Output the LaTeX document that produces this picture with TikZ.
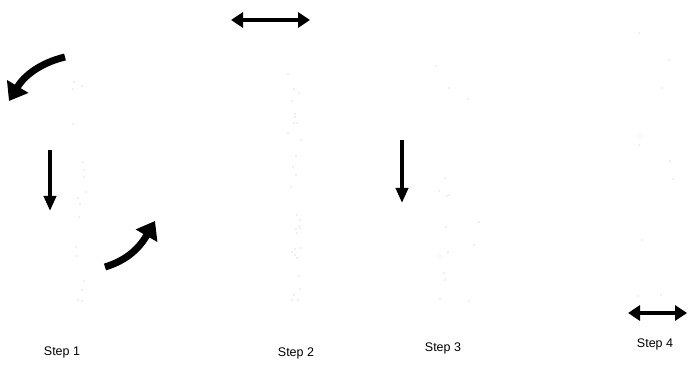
\documentclass[tikz,border=0pt]{standalone}
\usepackage{fontspec}
\setmainfont{Liberation Sans}
\usetikzlibrary{arrows.meta}
\begin{document}
\begin{tikzpicture}[x=1pt,y=-1pt,
  bigarrow/.style={line width=7pt,-{Triangle[length=17pt,width=24pt]}},
  straightarrow/.style={line width=4pt,-{Triangle[length=15pt,width=12pt]}},
  dblarrow/.style={line width=4pt,{Triangle[length=12pt,width=15pt]}-{Triangle[length=12pt,width=15pt]}},
  dotmark/.style={fill=gray!55,draw=none},
  steplabel/.style={font=\fontsize{12.5}{14}\selectfont,inner sep=0pt}]
\useasboundingbox (0,0) rectangle (688,379);
% Step 1
\coordinate (a1s) at (65,57);
\coordinate (a1e) at (9,101);
\draw[bigarrow] (a1s) .. controls (40,63) and (24,76) .. (a1e);
\coordinate (d1s) at (50,150);
\coordinate (d1e) at (50,211);
\draw[straightarrow] (d1s) -- (d1e);
\coordinate (a2s) at (105,267);
\coordinate (a2e) at (155,221);
\draw[bigarrow] (a2s) .. controls (128,260) and (140,247) .. (a2e);
% Step 2
\coordinate (h2l) at (231,20);
\coordinate (h2r) at (310,20);
\draw[dblarrow] (h2l) -- (h2r);
% Step 3
\coordinate (d3s) at (402,140);
\coordinate (d3e) at (402,203);
\draw[straightarrow] (d3s) -- (d3e);
% Step 4
\coordinate (h4l) at (628,313);
\coordinate (h4r) at (687,313);
\draw[dblarrow] (h4l) -- (h4r);
% dots
\foreach \p in {(74,82),(82,86),(73,89),(73,124),(83,162),(84,170),(84,177),(86,192),(78,198),(80,204),(79,217),(76,247),(77,256),(84,281),(82,290),(78,300),(82,301),
(288,74),(294,89),(299,93),(292,101),(295,114),(295,117),(294,123),(297,123),(288,133),(301,140),(296,156),(293,167),(296,175),(291,187),(297,215),(300,220),(299,226),(296,229),(300,228),(297,233),(292,252),(295,249),(301,248),(295,255),(297,258),(299,276),(300,289),(294,295),(292,300),(298,300),
(436,66),(449,88),(468,99),(445,178),(439,191),(447,196),(449,195),(479,222),(446,227),(474,245),(448,252),(440,256),(444,273),(445,280),(440,299),(469,301),
(639,33),(669,60),(662,88),(640,136),(639,145),(670,161),(673,179),(642,240),(638,296),(661,295)}
  \fill[dotmark] \p circle (0.6pt);
% labels
\node[steplabel] (l1) at (62,352) {Step 1};
\node[steplabel] (l2) at (296,353) {Step 2};
\node[steplabel] (l3) at (443,348) {Step 3};
\node[steplabel] (l4) at (655,344) {Step 4};
\end{tikzpicture}
\end{document}
